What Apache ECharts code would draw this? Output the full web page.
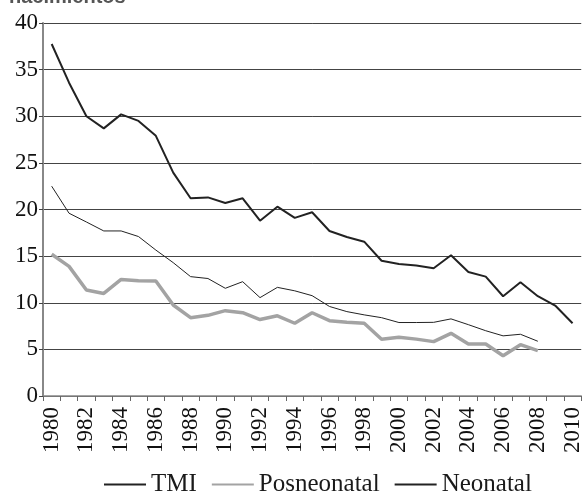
<!DOCTYPE html>
<html>
<head>
<meta charset="utf-8">
<script src="https://cdn.jsdelivr.net/npm/echarts@6/dist/echarts.min.js"></script>
<style>html,body{margin:0;padding:0;background:#fff}#c{width:584px;height:495px}</style>
</head>
<body>
<div id="c"></div>
<script>
var years = [];
for (var y = 1980; y <= 2010; y++) years.push(String(y));

var tmi = [37.75, 33.6, 30.0, 28.7, 30.2, 29.5, 27.9, 23.95, 21.2, 21.3, 20.7, 21.2, 18.8, 20.3, 19.1, 19.7, 17.7, 17.05, 16.55, 14.5, 14.15, 14.0, 13.7, 15.1, 13.3, 12.8, 10.7, 12.2, 10.7, 9.7, 7.8];
var neonatal = [22.5, 19.6, 18.66, 17.7, 17.7, 17.1, 15.65, 14.3, 12.8, 12.6, 11.55, 12.26, 10.55, 11.65, 11.28, 10.76, 9.6, 9.05, 8.7, 8.4, 7.88, 7.88, 7.9, 8.27, 7.65, 7.0, 6.45, 6.62, 5.87, null, null];
var posneonatal = [15.2, 13.9, 11.37, 11.0, 12.5, 12.37, 12.33, 9.76, 8.4, 8.65, 9.15, 8.93, 8.2, 8.6, 7.8, 8.93, 8.08, 7.92, 7.8, 6.08, 6.3, 6.1, 5.83, 6.72, 5.58, 5.58, 4.32, 5.5, 4.86, null, null];
var seriesNames = ['TMI', 'Posneonatal', 'Neonatal'];
var titleText = 'nacimientos';

var chart = echarts.init(document.getElementById('c'));
var serif = '"Liberation Serif", serif';
chart.setOption({
  animation: false,
  backgroundColor: '#fff',
  graphic: [{
    type: 'text', left: 9, top: -13,
    style: { text: titleText, font: 'bold 20px "Liberation Sans", sans-serif', fill: '#555' }
  }],
  grid: { left: 43, right: 0, top: 23, bottom: 99, containLabel: false },
  legend: {
    top: 467, left: 98,
    itemWidth: 42, itemHeight: 14, itemGap: 14,
    itemStyle: { opacity: 0 },
    textStyle: { fontFamily: serif, fontSize: 25, color: '#1a1a1a' },
    data: seriesNames
  },
  xAxis: {
    type: 'category', data: years, boundaryGap: true,
    axisLine: { lineStyle: { color: '#888', width: 1.5 } },
    axisTick: { show: true, interval: 0, length: 5, lineStyle: { color: '#666' } },
    axisLabel: { interval: 1, rotate: 90, margin: 11, fontFamily: serif, fontSize: 23, color: '#111' },
    splitLine: { show: false }
  },
  yAxis: {
    type: 'value', min: 0, max: 40, interval: 5,
    axisLine: { show: true, lineStyle: { color: '#888', width: 2 } },
    axisTick: { show: true, length: 4, lineStyle: { color: '#444' } },
    axisLabel: { margin: 5, fontFamily: serif, fontSize: 23, color: '#111' },
    splitLine: { lineStyle: { color: '#444', width: 1 } }
  },
  series: [
    { name: 'TMI', type: 'line', data: tmi, symbol: 'none', lineStyle: { color: '#222', width: 2 }, itemStyle: { color: '#222' } },
    { name: 'Posneonatal', type: 'line', data: posneonatal, symbol: 'none', lineStyle: { color: '#a3a3a3', width: 3.5 }, itemStyle: { color: '#a3a3a3' } },
    { name: 'Neonatal', type: 'line', data: neonatal, symbol: 'none', lineStyle: { color: '#222', width: 1 }, itemStyle: { color: '#222' } }
  ]
});
</script>
</body>
</html>
